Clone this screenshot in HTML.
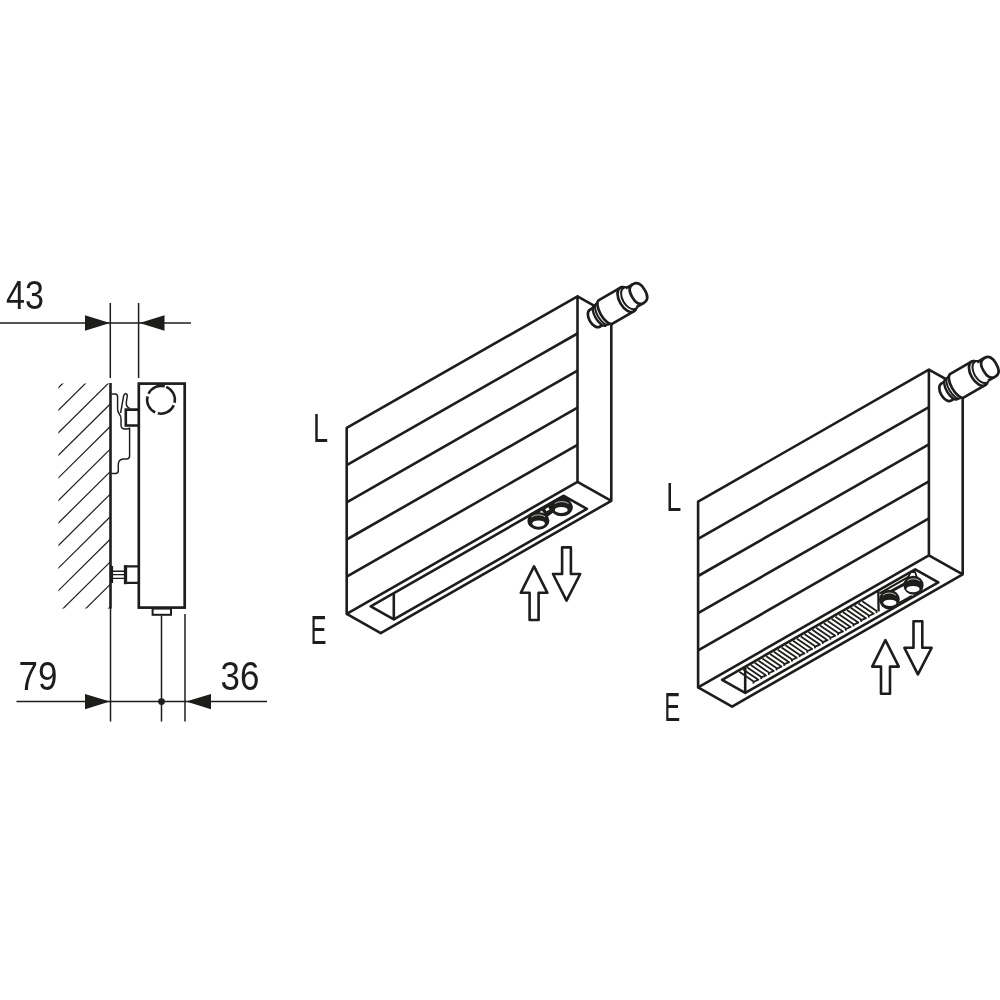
<!DOCTYPE html>
<html lang="en">
<head>
<meta charset="utf-8">
<title>Radiator dimensions</title>
<style>
html,body{margin:0;padding:0;background:#fff;}
body{width:1000px;height:1000px;overflow:hidden;}
svg{display:block;}
</style>
</head>
<body>
<svg width="1000" height="1000" viewBox="0 0 1000 1000">
<defs>
<clipPath id="hatchclip"><rect x="58.4" y="383.5" width="52.1" height="225"/></clipPath>
</defs>
<rect width="1000" height="1000" fill="#fff"/>
<g stroke="#1d1d1b" stroke-width="1.2" fill="none" clip-path="url(#hatchclip)">
<line x1="110.5" y1="336.1" x2="50" y2="396.0"/>
<line x1="110.5" y1="358.6" x2="50" y2="418.5"/>
<line x1="110.5" y1="381.2" x2="50" y2="441.1"/>
<line x1="110.5" y1="403.8" x2="50" y2="463.6"/>
<line x1="110.5" y1="426.3" x2="50" y2="486.2"/>
<line x1="110.5" y1="448.9" x2="50" y2="508.7"/>
<line x1="110.5" y1="471.4" x2="50" y2="531.3"/>
<line x1="110.5" y1="493.9" x2="50" y2="553.8"/>
<line x1="110.5" y1="516.5" x2="50" y2="576.4"/>
<line x1="110.5" y1="539.0" x2="50" y2="598.9"/>
<line x1="110.5" y1="561.6" x2="50" y2="621.5"/>
<line x1="110.5" y1="584.1" x2="50" y2="644.0"/>
<line x1="110.5" y1="606.7" x2="50" y2="666.6"/>
<line x1="110.5" y1="629.2" x2="50" y2="689.1"/>
</g>
<line x1="110.5" y1="383" x2="110.5" y2="608.5" stroke="#1d1d1b" stroke-width="2.6"/>
<rect x="138.8" y="383.6" width="45.9" height="224" fill="none" stroke="#1d1d1b" stroke-width="2.7"/>
<circle cx="161" cy="399.8" r="13.9" fill="none" stroke="#1d1d1b" stroke-width="2.5" stroke-dasharray="19.2 2.8" transform="rotate(-68 161 399.8)"/>
<path d="M138.5 409.6 H125.8 V425.5 H138.5" fill="none" stroke="#1d1d1b" stroke-width="2.6"/>
<path d="M111.5 394 H115 Q117.6 394 117.6 397 V409 Q117.6 412 119.3 414 Q121 416 121 419 V425 Q121 429 125 429 H127 Q129.6 429 129.6 427.5 V456 Q129.6 459 126.5 459 H123.5 Q118.5 459.5 118.3 464 V470.5 Q118.3 473.5 115.5 473.5 H111.5" fill="none" stroke="#1d1d1b" stroke-width="1.45"/>
<path d="M120.6 413 L123.6 396 Q124.3 393.5 126 393.6 Q127.6 394 127.2 396.5 L126.3 402.5 Q126 406 128 407.3 L130 408.5" fill="none" stroke="#1d1d1b" stroke-width="1.45"/>
<path d="M138.5 566.4 H124 M138.5 582.9 H124" fill="none" stroke="#1d1d1b" stroke-width="2.3"/>
<path d="M125.5 565.3 V584.2" fill="none" stroke="#1d1d1b" stroke-width="3.3"/>
<path d="M112 571.2 H124 M112 574.6 H124 M112 578.4 H124" fill="none" stroke="#1d1d1b" stroke-width="1.4"/>
<line x1="111.6" y1="566" x2="111.6" y2="583" stroke="#1d1d1b" stroke-width="3"/>
<rect x="152.6" y="608.6" width="18.4" height="6.2" fill="none" stroke="#1d1d1b" stroke-width="2"/>
<g stroke="#1d1d1b" stroke-width="1.5" fill="none">
<line x1="110.3" y1="303" x2="110.3" y2="378"/>
<line x1="138.6" y1="303" x2="138.6" y2="378"/>
<line x1="0" y1="323" x2="191" y2="323"/>
<line x1="110.5" y1="608" x2="110.5" y2="721.5"/>
<line x1="161.5" y1="615.5" x2="161.5" y2="721.5"/>
<line x1="185" y1="614" x2="185" y2="721.5"/>
<line x1="16.5" y1="701.6" x2="267" y2="701.6"/>
</g>
<g fill="#1d1d1b" stroke="none">
<path d="M110 323 L85 315.3 V330.7 Z"/>
<path d="M139.5 323 L164.5 315.3 V330.7 Z"/>
<path d="M110 701.6 L85 694 V709.2 Z"/>
<path d="M186 701.6 L211 694 V709.2 Z"/>
<circle cx="161.5" cy="701.6" r="3.4"/>
</g>
<g transform="translate(0.0 0.0)" fill="none" stroke="#1d1d1b" stroke-width="2.6" stroke-linejoin="round" stroke-linecap="butt">
<path d="M346.7 427.9 L577.5 296.4 L577.5 481.9 L346.7 613.9 Z"/>
<path d="M577.5 296.4 L611.3 315.3 L611.3 500.8 L577.5 481.9"/>
<path d="M346.7 613.9 L380.7 633.1 L611.3 500.8"/>
<line x1="346.7" y1="465.1" x2="577.5" y2="333.5"/>
<line x1="346.7" y1="502.3" x2="577.5" y2="370.6"/>
<line x1="346.7" y1="539.5" x2="577.5" y2="407.7"/>
<line x1="346.7" y1="576.7" x2="577.5" y2="444.8"/>
<path d="M370.7 606.4 L393.8 619.4 L586.9 508.9 L563.8 495.9 Z"/>
<line x1="393.8" y1="619.4" x2="393.8" y2="593.9"/>
<path d="M529.5 515.8 L563.8 496.2" stroke-width="3.6"/>
<path d="M553 502.4 L563.8 496 L571.5 500.6 L566 501.5 Z" fill="#1d1d1b" stroke-width="1"/>
<path d="M543 510.5 L552 505.5 L553 511.5 L547 516 Z" fill="#1d1d1b" stroke-width="2"/>
<path d="M545.2 509.2 L548.2 507.2 L549.6 509.6 L546.6 511.2 Z" fill="#fff" stroke="none"/>
<ellipse cx="538.45" cy="520.85" rx="10.95" ry="8.85" fill="#1d1d1b" stroke="none"/>
<ellipse cx="538.60" cy="523.55" rx="6.30" ry="3.15" fill="#fff" stroke="none"/>
<path d="M531.66 516.87 A8.76 5.49 0 0 1 545.24 516.87" stroke="#fff" stroke-width="0.7"/>
<ellipse cx="561.70" cy="507.50" rx="11.10" ry="8.70" fill="#1d1d1b" stroke="none"/>
<ellipse cx="561.25" cy="509.90" rx="6.45" ry="3.00" fill="#fff" stroke="none"/>
<path d="M554.82 503.58 A8.88 5.39 0 0 1 568.58 503.58" stroke="#fff" stroke-width="0.7"/>
<path d="M534 566.4 L547.4 592.8 H538.6 V620 H529.6 V592.8 H520.8 Z" stroke-width="2.6" stroke-linejoin="round"/>
<path d="M566.5 600.6 L553 574 H562.1 V547.4 H570.9 V574 H580.2 Z" stroke-width="2.6" stroke-linejoin="round"/>
<g transform="translate(603.5 313) rotate(-30)" stroke-width="2.7" fill="#fff" stroke-linejoin="round">
<path d="M-4 -9.6 H-10.2 A5.6 9.8 0 0 0 -10.2 10 H-4 Z"/>
<ellipse cx="-4.2" cy="0.3" rx="5" ry="11.6" stroke-width="2.4"/>
<ellipse cx="-1.4" cy="0.3" rx="5" ry="12.2" stroke-width="2"/>
<path d="M2.5 -13.5 H27 A7.5 13.5 0 0 1 27 13.7 H2.5 A5.6 13.6 0 0 1 2.5 -13.5 Z"/>
<ellipse cx="27" cy="0.1" rx="7.5" ry="13.6"/>
<ellipse cx="30" cy="0.2" rx="7" ry="12" stroke-width="2"/>
<path d="M31.5 -10.2 H40 V11.4 H31.5 A6.6 10.8 0 0 1 31.5 -10.2 Z" stroke="none"/>
<path d="M31.5 -10.2 H40 M40 11.4 H31.5" fill="none"/>
<path d="M40 -10.2 Q47.4 -10.2 47.2 0.6 Q47.4 11.4 40 11.4 Q32.6 11.4 32.8 0.6 Q32.6 -10.2 40 -10.2 Z"/>
</g>
</g>
<g transform="translate(351.4 73.8)" fill="none" stroke="#1d1d1b" stroke-width="2.6" stroke-linejoin="round" stroke-linecap="butt">
<path d="M346.7 427.9 L577.5 295.8 L577.5 481.6 L346.7 613.6 Z"/>
<path d="M577.5 295.8 L611.3 314.7 L611.3 500.5 L577.5 481.6"/>
<path d="M346.7 613.6 L380.7 632.8 L611.3 500.5"/>
<line x1="346.7" y1="465.0" x2="577.5" y2="333.4"/>
<line x1="346.7" y1="502.2" x2="577.5" y2="370.5"/>
<line x1="346.7" y1="539.3" x2="577.5" y2="407.5"/>
<line x1="346.7" y1="576.5" x2="577.5" y2="444.6"/>
<path d="M370.7 606.1 L393.8 619.1 L586.9 508.6 L563.8 495.6 Z"/>
<line x1="393.8" y1="619.1" x2="393.8" y2="593.6"/>
<path d="M387.90 597.85 L401.90 607.37 L402.20 609.77 M391.74 595.65 L406.94 605.99 L402.34 607.99 M395.59 593.45 L409.59 602.97 L409.89 605.37 M399.43 591.25 L414.63 601.59 L410.03 603.59 M403.27 589.05 L417.27 598.57 L417.57 600.97 M407.12 586.85 L422.32 597.19 L417.72 599.19 M410.96 584.65 L424.96 594.17 L425.26 596.57 M414.81 582.45 L430.01 592.79 L425.41 594.79 M418.65 580.25 L432.65 589.77 L432.95 592.17 M422.49 578.05 L437.69 588.38 L433.09 590.38 M426.34 575.85 L440.34 585.37 L440.64 587.77 M430.18 573.65 L445.38 583.98 L440.78 585.98 M434.02 571.45 L448.02 580.97 L448.32 583.37 M437.87 569.25 L453.07 579.58 L448.47 581.58 M441.71 567.05 L455.71 576.57 L456.01 578.97 M445.56 564.84 L460.76 575.18 L456.16 577.18 M449.40 562.64 L463.40 572.16 L463.70 574.56 M453.24 560.44 L468.44 570.78 L463.84 572.78 M457.09 558.24 L471.09 567.76 L471.39 570.16 M460.93 556.04 L476.13 566.38 L471.53 568.38 M464.77 553.84 L478.77 563.36 L479.07 565.76 M468.62 551.64 L483.82 561.98 L479.22 563.98 M472.46 549.44 L486.46 558.96 L486.76 561.36 M476.31 547.24 L491.51 557.58 L486.91 559.58 M480.15 545.04 L494.15 554.56 L494.45 556.96 M483.99 542.84 L499.19 553.18 L494.59 555.18 M487.84 540.64 L501.84 550.16 L502.14 552.56 M491.68 538.44 L506.88 548.77 L502.28 550.77 M495.52 536.24 L509.52 545.76 L509.82 548.16 M499.37 534.04 L514.57 544.37 L509.97 546.37 M503.21 531.84 L517.21 541.36 L517.51 543.76 M507.06 529.64 L522.26 539.97 L517.66 541.97 M510.90 527.44 L524.90 536.96 L525.20 539.36" stroke-width="1.8" stroke-linejoin="round"/>
<path d="M526.9 516.4 L527.2 537.6" stroke-width="2.3"/>
<path d="M528.2 519.6 L558 502.6" stroke-width="2.2"/>
<path d="M536 519.4 L556 508.6" stroke-width="3"/>
<path d="M547.4 529.2 L560.4 522" stroke-width="2"/>
<path d="M556.4 504 L559.4 498.4 L563.6 498 L565.4 503.4" stroke-width="1.8"/>
<ellipse cx="538.00" cy="525.80" rx="10.40" ry="9.80" fill="#1d1d1b" stroke="none"/>
<ellipse cx="538.50" cy="529.00" rx="6.60" ry="3.10" fill="#fff" stroke="none"/>
<path d="M531.55 521.39 A8.32 6.08 0 0 1 544.45 521.39" stroke="#fff" stroke-width="0.7"/>
<ellipse cx="562.10" cy="511.40" rx="10.10" ry="9.50" fill="#1d1d1b" stroke="none"/>
<ellipse cx="561.60" cy="515.30" rx="6.60" ry="3.20" fill="#fff" stroke="none"/>
<path d="M555.84 507.12 A8.08 5.89 0 0 1 568.36 507.12" stroke="#fff" stroke-width="0.7"/>
<path d="M534 566.4 L547.4 592.8 H538.6 V620 H529.6 V592.8 H520.8 Z" stroke-width="2.6" stroke-linejoin="round"/>
<path d="M566.5 600.6 L553 574 H562.1 V547.4 H570.9 V574 H580.2 Z" stroke-width="2.6" stroke-linejoin="round"/>
<g transform="translate(603.5 313) rotate(-30)" stroke-width="2.7" fill="#fff" stroke-linejoin="round">
<path d="M-4 -9.6 H-10.2 A5.6 9.8 0 0 0 -10.2 10 H-4 Z"/>
<ellipse cx="-4.2" cy="0.3" rx="5" ry="11.6" stroke-width="2.4"/>
<ellipse cx="-1.4" cy="0.3" rx="5" ry="12.2" stroke-width="2"/>
<path d="M2.5 -13.5 H27 A7.5 13.5 0 0 1 27 13.7 H2.5 A5.6 13.6 0 0 1 2.5 -13.5 Z"/>
<ellipse cx="27" cy="0.1" rx="7.5" ry="13.6"/>
<ellipse cx="30" cy="0.2" rx="7" ry="12" stroke-width="2"/>
<path d="M31.5 -10.2 H40 V11.4 H31.5 A6.6 10.8 0 0 1 31.5 -10.2 Z" stroke="none"/>
<path d="M31.5 -10.2 H40 M40 11.4 H31.5" fill="none"/>
<path d="M40 -10.2 Q47.4 -10.2 47.2 0.6 Q47.4 11.4 40 11.4 Q32.6 11.4 32.8 0.6 Q32.6 -10.2 40 -10.2 Z"/>
</g>
</g>
<g font-family="'Liberation Sans', sans-serif" fill="#1d1d1b" style="opacity:0.999">
<text transform="translate(6.00 308.80) scale(0.840 1)" font-size="40.6">43</text>
<text transform="translate(18.50 690.20) scale(0.860 1)" font-size="40.6">79</text>
<text transform="translate(220.50 690.20) scale(0.860 1)" font-size="40.6">36</text>
<text transform="translate(312.90 441.80) scale(0.680 1)" font-size="40.0">L</text>
<text transform="translate(310.60 644.20) scale(0.600 1)" font-size="40.0">E</text>
<text transform="translate(666.30 510.80) scale(0.680 1)" font-size="40.0">L</text>
<text transform="translate(664.30 720.60) scale(0.600 1)" font-size="40.0">E</text>
</g>
</svg>
</body>
</html>
